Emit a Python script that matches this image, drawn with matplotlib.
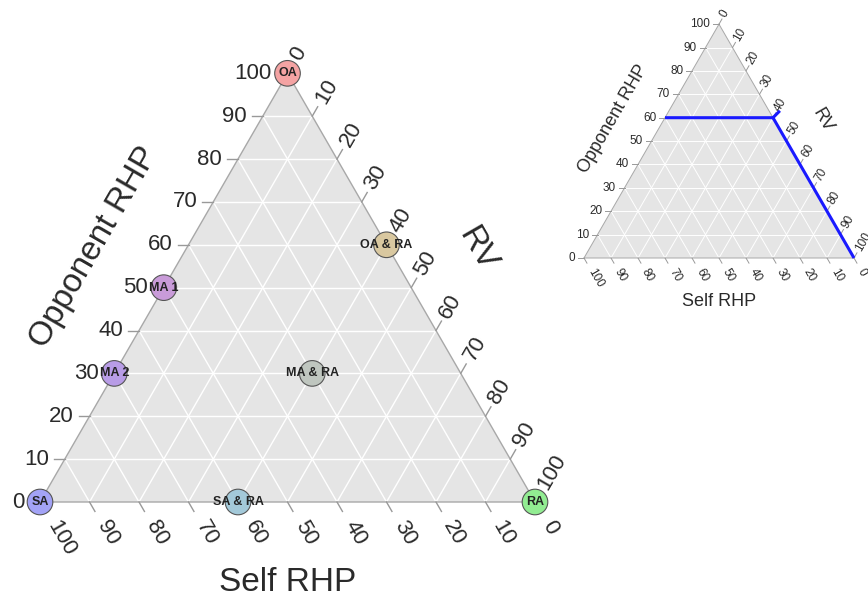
import numpy as np
import matplotlib
matplotlib.use("Agg")
import matplotlib.pyplot as plt

plt.rcParams['font.family'] = ['Liberation Sans', 'DejaVu Sans']

# ---------------- data ----------------
point_labels = ['OA', 'SA', 'RA', 'MA 1', 'MA 2', 'OA & RA', 'MA & RA', 'SA & RA']
opponent_rhp = [100, 0, 0, 50, 30, 60, 30, 0]
self_rhp = [0, 100, 0, 50, 70, 0, 30, 60]
rv_values = [0, 0, 100, 0, 0, 40, 40, 40]
point_colors = ['#f4a3a3', '#a3a3f6', '#92ec92', '#c99bd9', '#b89ce6',
                '#d9c8a0', '#bfc6bf', '#a3c9d9']

tick_values = [0, 10, 20, 30, 40, 50, 60, 70, 80, 90, 100]

# inset: the boundary line
line_opponent = [60, 60, 0]
line_self = [40, 0, 0]
line_rv = [0, 40, 100]
stub_opponent = [60, 62.5]
stub_self = [0, -3.4]
stub_rv = [40, 40.9]

axis_titles = ['Opponent RHP', 'Self RHP', 'RV']

H = np.sqrt(3) / 2


def txy(a, b, c):
    a = np.asarray(a, float); b = np.asarray(b, float); c = np.asarray(c, float)
    tot = a + b + c
    return (c + a / 2) / tot * 100, a * H / tot * 100


def draw_ternary(ax, tick_fs, title_fs, grid_lw, edge_lw):
    txt = '#2a2a2a'
    X, Y = txy([100, 0, 0], [0, 100, 0], [0, 0, 100])
    ax.fill(X, Y, color='#e5e5e5', zorder=0, lw=0)
    for k in tick_values[1:-1]:
        for p, q in [((k, 100 - k, 0), (k, 0, 100 - k)),
                     ((100 - k, k, 0), (0, k, 100 - k)),
                     ((100 - k, 0, k), (0, 100 - k, k))]:
            x, y = txy([p[0], q[0]], [p[1], q[1]], [p[2], q[2]])
            ax.plot(x, y, color='white', lw=grid_lw, zorder=1)
    ax.plot(list(X) + [X[0]], list(Y) + [Y[0]], color='#a8a8a8', lw=edge_lw, zorder=2)
    tl = 2.2
    pad = 1.0
    bpad = 2.6
    for k in tick_values:
        # left axis: opponent
        x, y = txy(k, 100 - k, 0)
        ax.plot([x, x - tl], [y, y], color='#999999', lw=edge_lw, zorder=2)
        ax.text(x - tl - pad, y, str(k), ha='right', va='center',
                fontsize=tick_fs, color=txt)
        # bottom axis: self
        x, y = txy(0, k, 100 - k)
        d = np.array([0.5, -H])
        ax.plot([x, x + d[0] * tl], [y, y + d[1] * tl], color='#999999', lw=edge_lw, zorder=2)
        ax.text(x + d[0] * (tl + bpad), y + d[1] * (tl + bpad), str(k), ha='left', va='center',
                rotation=-60, rotation_mode='anchor', fontsize=tick_fs, color=txt)
        # right axis: RV
        x, y = txy(100 - k, 0, k)
        d = np.array([0.5, H])
        ax.plot([x, x + d[0] * tl], [y, y + d[1] * tl], color='#999999', lw=edge_lw, zorder=2)
        ax.text(x + d[0] * (tl + pad), y + d[1] * (tl + pad), str(k), ha='left', va='center',
                rotation=60, rotation_mode='anchor', fontsize=tick_fs, color=txt)
    dist = 16.2
    ax.text(25 - H * dist, 50 * H + 0.5 * dist, axis_titles[0], rotation=60,
            ha='center', va='center', fontsize=title_fs, color=txt)
    ax.text(75 + H * (dist - 0.8), 50 * H + 0.5 * (dist - 0.8), axis_titles[2], rotation=-60,
            ha='center', va='center', fontsize=title_fs, color=txt)
    ax.text(50, -dist, axis_titles[1], ha='center', va='center',
            fontsize=title_fs, color=txt)


fig = plt.figure(figsize=(8.68, 6.01), dpi=100)
W, Hpx = 868, 601

# main ternary
ax = fig.add_axes([0, 0, 1, 1])
s = 4.95
ox, oy = 40, 502
ax.set_xlim(-ox / s, (W - ox) / s)
ax.set_ylim(-(Hpx - oy) / s, oy / s)
ax.axis('off')
draw_ternary(ax, 16, 24, 1.0, 1.0)
px, py = txy(opponent_rhp, self_rhp, rv_values)
ax.scatter(px, py, s=340, c=point_colors, edgecolors='#555555', linewidths=0.8, zorder=5)
for x, y, lab in zip(px, py, point_labels):
    ax.text(x, y, lab, ha='center', va='center', fontsize=9, fontweight='bold',
            color='#222222', zorder=6)

# inset ternary
ax2 = fig.add_axes([0, 0, 1, 1])
ax2.patch.set_alpha(0)
s2 = 2.7
ox2, oy2 = 584, 258
ax2.set_xlim(-ox2 / s2, (W - ox2) / s2)
ax2.set_ylim(-(Hpx - oy2) / s2, oy2 / s2)
ax2.axis('off')
draw_ternary(ax2, 8.5, 13, 0.7, 0.7)
lx, ly = txy(line_opponent, line_self, line_rv)
ax2.plot(lx, ly, color='#1a1aff', lw=2.2, zorder=5, solid_capstyle='butt')
sx, sy = txy(stub_opponent, stub_self, stub_rv)
ax2.plot(sx, sy, color='#1a1aff', lw=2.2, zorder=5)

fig.savefig('out.png', dpi=100)
